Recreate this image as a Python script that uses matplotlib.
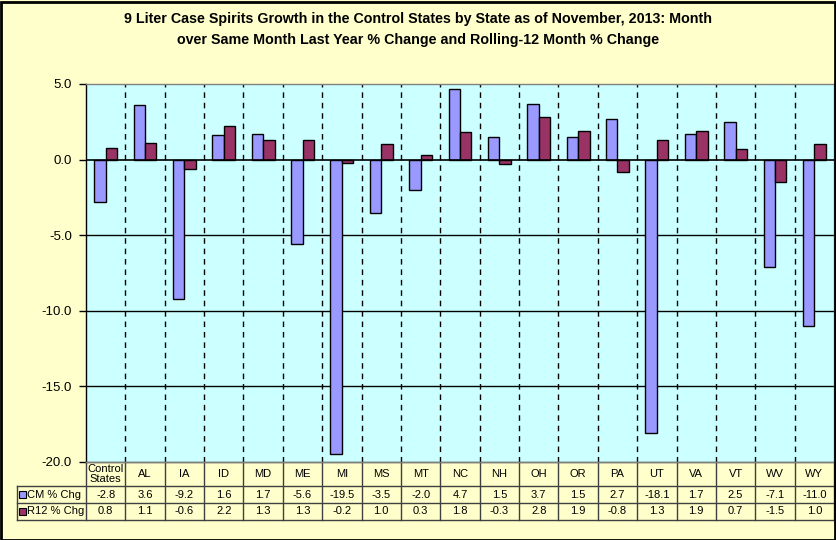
import matplotlib
matplotlib.use("Agg")
import matplotlib.pyplot as plt
import matplotlib.transforms as mtransforms
from matplotlib.patches import Rectangle
import numpy as np

plt.rcParams['font.family'] = ['Liberation Sans', 'DejaVu Sans']

# data
states = ["Control\nStates", "AL", "IA", "ID", "MD", "ME", "MI", "MS", "MT", "NC",
          "NH", "OH", "OR", "PA", "UT", "VA", "VT", "WV", "WY"]
cm_chg = [-2.8, 3.6, -9.2, 1.6, 1.7, -5.6, -19.5, -3.5, -2.0, 4.7,
          1.5, 3.7, 1.5, 2.7, -18.1, 1.7, 2.5, -7.1, -11.0]
r12_chg = [0.8, 1.1, -0.6, 2.2, 1.3, 1.3, -0.2, 1.0, 0.3, 1.8,
           -0.3, 2.8, 1.9, -0.8, 1.3, 1.9, 0.7, -1.5, 1.0]
series_names = ["CM % Chg", "R12 % Chg"]
series_colors = ["#9999FF", "#993366"]
yticks = [5, 0, -5, -10, -15, -20]

W, H = 836, 540
fig = plt.figure(figsize=(W / 100, H / 100), dpi=100, facecolor="#FFFFCC")

def fy(py):
    return 1 - py / H

# plot area in pixels
left, right, top, bottom = 86, 834, 84, 462
ax = fig.add_axes([left / W, fy(bottom), (right - left) / W, (bottom - top) / H])
ax.set_facecolor("#CCFFFF")

n = len(states)
x = np.arange(n)
bw = 0.29
ax.bar(x - bw / 2, cm_chg, bw, color=series_colors[0], edgecolor="black", lw=1, zorder=3)
ax.bar(x + bw / 2, r12_chg, bw, color=series_colors[1], edgecolor="black", lw=1, zorder=3)

ax.set_xlim(-0.5, n - 0.5)
ax.set_ylim(-20, 5)
ax.set_yticks(yticks)
ax.set_yticklabels([f"{v:.1f}" for v in yticks], fontsize=9.5)
ax.tick_params(axis="y", length=5, width=1, pad=5, color="black")
ax.set_xticks([])

for v in [-5, -10, -15]:
    ax.axhline(v, color="black", lw=1, zorder=1)
ax.axhline(0, color="black", lw=1.2, zorder=4)
for b in np.arange(0.5, n - 1, 1):
    ax.axvline(b, color="black", lw=1, ls=(0, (4, 3.5)), zorder=1)

for s in ax.spines.values():
    s.set_color("#808080")
    s.set_linewidth(1)
ax.spines["left"].set_color("black")

# data table below the plot
tr = mtransforms.blended_transform_factory(ax.transData, fig.transFigure)
unit = (right - left) / n
lab_left = -0.5 - (left - 17) / unit
row_y = [462, 486, 503, 520]
lc = "#404040"
tfs = 8

def hline(x0, x1, py):
    ax.plot([x0, x1], [fy(py), fy(py)], transform=tr, color=lc, lw=1, clip_on=False)

def vline(xx, py0, py1):
    ax.plot([xx, xx], [fy(py0), fy(py1)], transform=tr, color=lc, lw=1, clip_on=False)

hline(-0.5, n - 0.5, row_y[0])
hline(lab_left, n - 0.5, row_y[1])
hline(lab_left, n - 0.5, row_y[2])
hline(lab_left, n - 0.5, row_y[3])
vline(lab_left, row_y[1], row_y[3])
for b in np.arange(-0.5, n, 1):
    vline(b, row_y[0], row_y[3])

for i, s in enumerate(states):
    ax.text(i, fy((row_y[0] + row_y[1]) / 2), s, transform=tr, ha="center", va="center",
            fontsize=tfs, linespacing=1.0)
    ax.text(i, fy((row_y[1] + row_y[2]) / 2), f"{cm_chg[i]:.1f}", transform=tr,
            ha="center", va="center", fontsize=tfs)
    ax.text(i, fy((row_y[2] + row_y[3]) / 2), f"{r12_chg[i]:.1f}", transform=tr,
            ha="center", va="center", fontsize=tfs)

for k, name in enumerate(series_names):
    yc = (row_y[k + 1] + row_y[k + 2]) / 2
    fig.patches.append(Rectangle((19 / W, fy(yc + 3.5)), 7 / W, 7 / H, transform=fig.transFigure,
                                 facecolor=series_colors[k], edgecolor="black", lw=0.8))
    fig.text(27 / W, fy(yc), name, ha="left", va="center", fontsize=tfs)

fig.text(0.5, fy(19), "9 Liter Case Spirits Growth in the Control States by State as of November, 2013: Month",
         ha="center", va="center", fontsize=10.3, fontweight="bold")
fig.text(0.5, fy(40), "over Same Month Last Year % Change and Rolling-12 Month % Change",
         ha="center", va="center", fontsize=10.3, fontweight="bold")

# chart border
fig.patches.append(Rectangle((0.5 / W, 0.5 / H), (W - 2) / W, (H - 2) / H, transform=fig.transFigure,
                             fill=False, edgecolor="black", lw=2))

fig.savefig("out.png", dpi=100, facecolor=fig.get_facecolor())
